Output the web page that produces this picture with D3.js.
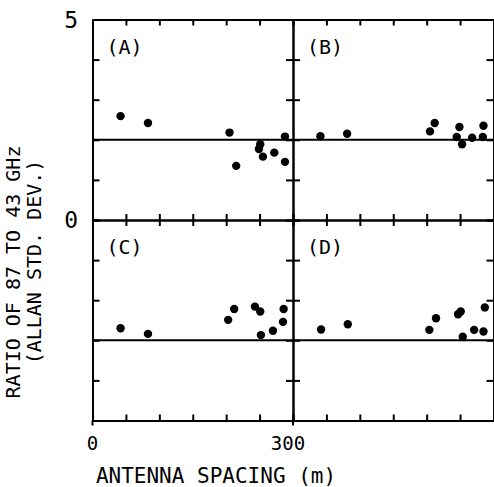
<!DOCTYPE html>
<html>
<head>
<meta charset="utf-8">
<script src="https://cdn.jsdelivr.net/npm/d3@7"></script>
<style>
  body { margin: 0; background: #fff; }
  text { font-family: "DejaVu Sans Mono", monospace; fill: #000; }
</style>
</head>
<body>
<script>
// antenna spacing (m) and 87/43 GHz ratio for each panel
var spacingA = [42, 83, 205, 215, 251, 249, 255, 272, 288, 288];
var ratioA   = [2.59, 2.42, 2.18, 1.35, 1.89, 1.77, 1.58, 1.68, 1.45, 2.08];
var spacingB = [41, 81, 205, 212, 245, 249, 253, 268, 284, 285];
var ratioB   = [2.09, 2.15, 2.21, 2.42, 2.07, 2.32, 1.89, 2.05, 2.07, 2.35];
var spacingC = [42, 83, 203, 212, 243, 251, 252, 270, 285, 286];
var ratioC   = [2.30, 2.16, 2.51, 2.78, 2.84, 2.72, 2.13, 2.24, 2.46, 2.78];
var spacingD = [42, 82, 204, 214, 247, 251, 254, 271, 285, 287];
var ratioD   = [2.27, 2.40, 2.26, 2.55, 2.65, 2.72, 2.09, 2.26, 2.22, 2.82];
var panelNames = ["(A)", "(B)", "(C)", "(D)"];
var refLevel = 2;
var xTicks = [0, 50, 100, 150, 200, 250, 300];
var yTicks = [0, 1, 2, 3, 4, 5];

var W = 494, H = 487;
var padLeft = 92.5, padTop = 19.5, pw = 200.5, ph = 200.5;

var svg = d3.select("body").append("svg")
  .attr("width", W)
  .attr("height", H);

var x = d3.scaleLinear().domain([0, 300]).range([0, pw]);
var y = d3.scaleLinear().domain([0, 5]).range([ph, 0]);

var panels = [
  {name: panelNames[0], sx: spacingA, ry: ratioA, col: 0, row: 0},
  {name: panelNames[1], sx: spacingB, ry: ratioB, col: 1, row: 0},
  {name: panelNames[2], sx: spacingC, ry: ratioC, col: 0, row: 1},
  {name: panelNames[3], sx: spacingD, ry: ratioD, col: 1, row: 1}
];

var styleAxis = function(g){
  g.selectAll("path, line").attr("stroke", "#000").attr("stroke-width", 2);
  g.selectAll("text").remove();
};

panels.forEach(function(p){
  var g = svg.append("g")
    .attr("transform", "translate(" + (padLeft + p.col * pw) + "," + (padTop + p.row * ph) + ")");

  // frame with inward ticks on every side
  g.append("g").call(d3.axisLeft(y).tickValues(yTicks).tickSizeInner(-7).tickSizeOuter(0)).call(styleAxis);
  g.append("g").attr("transform", "translate(" + pw + ",0)")
    .call(d3.axisRight(y).tickValues(yTicks).tickSizeInner(-7).tickSizeOuter(0)).call(styleAxis);
  g.append("g").call(d3.axisTop(x).tickValues(xTicks).tickSizeInner(-6).tickSizeOuter(0)).call(styleAxis);
  g.append("g").attr("transform", "translate(0," + ph + ")")
    .call(d3.axisBottom(x).tickValues(xTicks).tickSizeInner(-6).tickSizeOuter(0)).call(styleAxis);

  // reference line
  g.append("line")
    .attr("x1", x(0)).attr("x2", x(300))
    .attr("y1", y(refLevel)).attr("y2", y(refLevel))
    .attr("stroke", "#000").attr("stroke-width", 2);

  g.selectAll("circle").data(p.sx).enter().append("circle")
    .attr("cx", function(d){ return x(d); })
    .attr("cy", function(d, i){ return y(p.ry[i]); })
    .attr("r", 4.2)
    .attr("fill", "#000");

  g.append("text")
    .attr("x", 14).attr("y", 34)
    .attr("font-size", 20)
    .text(p.name);
});

// little stubs below the bottom axis at 0 and 300
[0, 300].forEach(function(v){
  svg.append("line")
    .attr("x1", padLeft + x(v)).attr("x2", padLeft + x(v))
    .attr("y1", padTop + 2 * ph).attr("y2", padTop + 2 * ph + 5)
    .attr("stroke", "#000").attr("stroke-width", 2);
});

// y tick labels
svg.append("text").attr("x", 78).attr("y", padTop + y(5) + 8)
  .attr("text-anchor", "end").attr("font-size", 23).text("5");
svg.append("text").attr("x", 78).attr("y", padTop + y(0) + 8)
  .attr("text-anchor", "end").attr("font-size", 23).text("0");

// x tick labels
svg.append("text").attr("x", padLeft + x(0)).attr("y", padTop + 2 * ph + 29)
  .attr("text-anchor", "middle").attr("font-size", 19).text("0");
svg.append("text").attr("x", padLeft + x(300) - 5).attr("y", padTop + 2 * ph + 29)
  .attr("text-anchor", "middle").attr("font-size", 19).text("300");

// axis titles
svg.append("text")
  .attr("x", 216).attr("y", 483)
  .attr("text-anchor", "middle").attr("font-size", 21)
  .text("ANTENNA SPACING (m)");

svg.append("text")
  .attr("transform", "translate(20,272) rotate(-90)")
  .attr("text-anchor", "middle").attr("font-size", 20)
  .text("RATIO OF 87 TO 43 GHz");
svg.append("text")
  .attr("transform", "translate(41,262) rotate(-90)")
  .attr("text-anchor", "middle").attr("font-size", 20)
  .text("(ALLAN STD. DEV.)");
</script>
</body>
</html>
